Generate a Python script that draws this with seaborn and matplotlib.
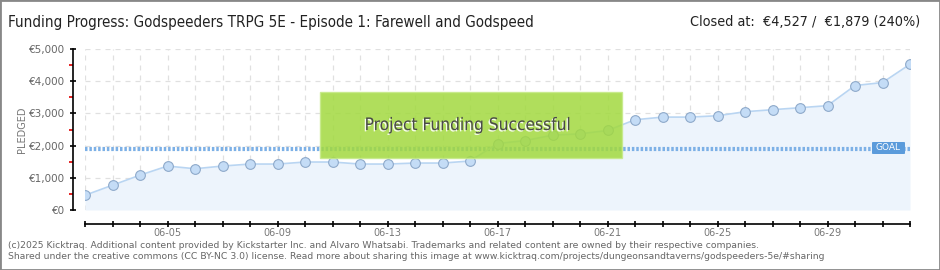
import matplotlib
matplotlib.use("Agg")
import matplotlib.pyplot as plt
import matplotlib.patheffects as pe
from matplotlib.patches import Rectangle, FancyBboxPatch
from matplotlib.ticker import MultipleLocator, FuncFormatter, FixedLocator
import seaborn as sns
import pandas as pd
import numpy as np

# ---- data ----
dates = ["06-02", "06-03", "06-04", "06-05", "06-06", "06-07", "06-08", "06-09",
         "06-10", "06-11", "06-12", "06-13", "06-14", "06-15", "06-16", "06-17",
         "06-18", "06-19", "06-20", "06-21", "06-22", "06-23", "06-24", "06-25",
         "06-26", "06-27", "06-28", "06-29", "06-30", "07-01", "07-02"]
pledged = [458, 771, 1083, 1365, 1281, 1365, 1427, 1427,
           1490, 1490, 1427, 1427, 1458, 1458, 1521, 2063,
           2156, 2323, 2365, 2469, 2802, 2885, 2885, 2927,
           3052, 3115, 3177, 3240, 3865, 3958, 4527]
goal = 1879
tick_labels = ["06-05", "06-09", "06-13", "06-17", "06-21", "06-25", "06-29"]
y_ticks = [0, 1000, 2000, 3000, 4000, 5000]
y_minor = [500, 1500, 2500, 3500, 4500]

title = "Funding Progress: Godspeeders TRPG 5E - Episode 1: Farewell and Godspeed"
closed = "Closed at:  €4,527 /  €1,879 (240%)"
footer1 = "(c)2025 Kicktraq. Additional content provided by Kickstarter Inc. and Alvaro Whatsabi. Trademarks and related content are owned by their respective companies."
footer2 = "Shared under the creative commons (CC BY-NC 3.0) license. Read more about sharing this image at www.kicktraq.com/projects/dungeonsandtaverns/godspeeders-5e/#sharing"

df = pd.DataFrame({"day": np.arange(len(dates)), "date": dates, "pledged": pledged})

sns.set_theme(style="white")
plt.rcParams["font.family"] = ["DejaVu Sans"]

W, H = 940, 270
fig = plt.figure(figsize=(W / 100, H / 100), dpi=100)
fig.patch.set_facecolor("white")

def fx(px):
    return px / W

def fy(py):
    return 1 - py / H

ax = fig.add_axes([fx(85), fy(210), fx(910) - fx(85), fy(49) - fy(210)])
ax.set_facecolor("white")

# fill and line
ax.fill_between(df["day"], df["pledged"], 0, color="#edf4fc", zorder=1, lw=0)
sns.lineplot(data=df, x="day", y="pledged", ax=ax, color="#b9d5f2", lw=1.2,
             marker="o", markersize=7, markerfacecolor="#c4dcf6",
             markeredgecolor="#8ea9ca", markeredgewidth=0.8, zorder=4)

# goal line
ax.axhline(goal, color="#7cb0e6", lw=3.0, ls=(0, (0.6, 0.45)), zorder=3)

ax.set_xlim(0, len(dates) - 1)
ax.set_ylim(0, 5000)

# ticks
major_days = [dates.index(d) for d in tick_labels]
ax.xaxis.set_major_locator(FixedLocator(major_days))
ax.set_xticklabels(tick_labels)
ax.xaxis.set_minor_locator(FixedLocator(list(df["day"])))
ax.set_yticks(y_ticks)
ax.yaxis.set_major_formatter(FuncFormatter(lambda v, p: "€{:,.0f}".format(v)))
ax.yaxis.set_minor_locator(FixedLocator(y_minor))
ax.grid(True, which="both", axis="x", color="#e0e0e0", ls=(0, (4, 4)), lw=0.9, zorder=0)
ax.grid(True, which="major", axis="y", color="#e0e0e0", ls=(0, (4, 4)), lw=0.9, zorder=0)
ax.set_axisbelow(True)

for s in ["top", "right"]:
    ax.spines[s].set_visible(False)
ax.spines["left"].set_position(("outward", 9))
ax.spines["bottom"].set_position(("outward", 10))
ax.spines["left"].set_color("black")
ax.spines["bottom"].set_color("black")
ax.spines["left"].set_linewidth(1.2)
ax.spines["bottom"].set_linewidth(1.2)
ax.spines["left"].set_bounds(0, 5000)

ax.tick_params(axis="y", which="major", length=5, width=1.2, color="black",
               labelsize=7.5, labelcolor="#666666", pad=3, left=True, direction="inout")
ax.tick_params(axis="y", which="minor", length=3, width=1.2, color="#e00000", left=True)
ax.tick_params(axis="x", which="both", length=5, width=1.2, color="black",
               labelsize=7, labelcolor="#777777", pad=0.5, bottom=True, direction="inout")
ax.set_xlabel("")
ax.set_ylabel("PLEDGED", fontsize=7, color="#777777", labelpad=1)

# GOAL label
gx0 = 872
fig.patches.append(FancyBboxPatch((fx(gx0), fy(154)), fx(905) - fx(gx0), fy(142) - fy(154),
                                  boxstyle="round,pad=0,rounding_size=0.002",
                                  transform=fig.transFigure, facecolor="#5b9bdb",
                                  edgecolor="none", zorder=10))
fig.text(fx(888.5), fy(148), "GOAL", color="white", fontsize=6.5, ha="center", va="center", zorder=11)

# success overlay
fig.patches.append(Rectangle((fx(320), fy(158)), fx(622) - fx(320), fy(92) - fy(158),
                             transform=fig.transFigure, facecolor="#a2d93f", alpha=0.85,
                             edgecolor="#c6ea88", lw=1, zorder=10))
fig.text(fx(468), fy(125), "Project Funding Successful", color="#4a4a4a", fontsize=12.4,
         ha="center", va="center", fontstretch="condensed", zorder=12,
         path_effects=[pe.withSimplePatchShadow(offset=(-1, -1), shadow_rgbFace="white", alpha=0.9)])

# titles
fig.text(fx(8), fy(22), title, fontsize=10.9, color="#222222", ha="left", va="center",
         fontstretch="condensed")
fig.text(fx(920), fy(22), closed, fontsize=10.3, color="#222222", ha="right", va="center",
         fontstretch="condensed")

# footer
fig.text(fx(8), fy(245), footer1, fontsize=6.7, color="#666666", ha="left", va="center")
fig.text(fx(8), fy(256.5), footer2, fontsize=6.7, color="#666666", ha="left", va="center")

# frame
fig.patches.append(Rectangle((0, 0), 1, 1, transform=fig.transFigure, fill=False,
                             edgecolor="#888888", lw=2, zorder=20))

fig.savefig("out.png", dpi=100)
